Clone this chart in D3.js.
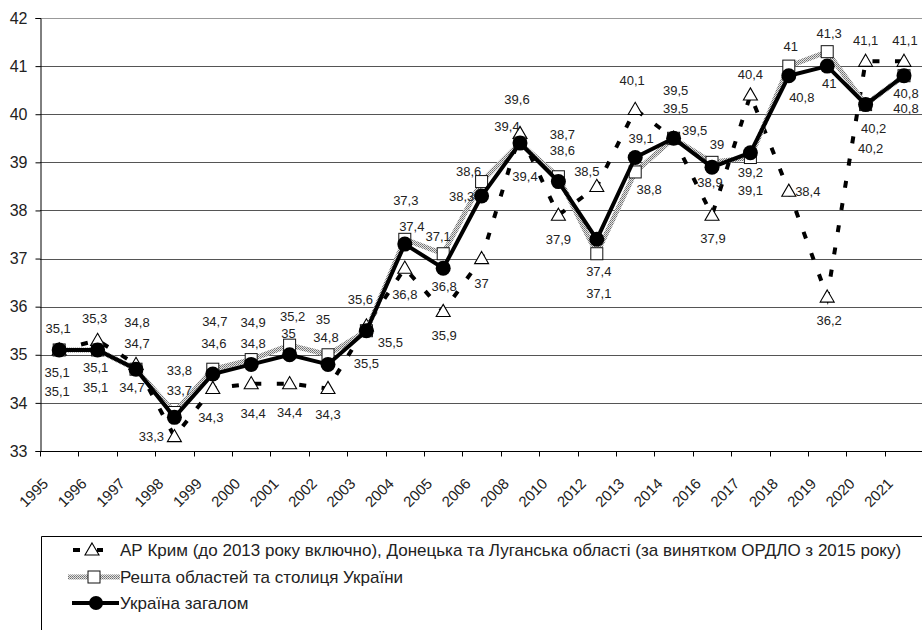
<!DOCTYPE html>
<html>
<head>
<meta charset="utf-8">
<script src="https://cdn.jsdelivr.net/npm/d3@7"></script>
<style>
  html, body { margin: 0; padding: 0; background: #fff; }
  svg { display: block; font-family: "Liberation Sans", Arial, sans-serif; }
</style>
</head>
<body>
<svg id="chart" width="922" height="630"></svg>
<script>
// ---------- DATA ----------
const years = ["1995","1996","1997","1998","1999","2000","2001","2002","2003","2004","2005","2006",
               "2008","2010","2012","2013","2014","2016","2017","2018","2019","2020","2021"];

const crimeaDonbas = [35.1,35.3,34.8,33.3,34.3,34.4,34.4,34.3,35.6,36.8,35.9,37.0,
                      39.6,37.9,38.5,40.1,39.5,37.9,40.4,38.4,36.2,41.1,41.1];
const restRegions  = [35.1,35.1,34.7,33.8,34.7,34.9,35.2,35.0,35.5,37.4,37.1,38.6,
                      39.4,38.7,37.1,38.8,39.5,39.0,39.1,41.0,41.3,40.2,40.8];
const ukraineTotal = [35.1,35.1,34.7,33.7,34.6,34.8,35.0,34.8,35.5,37.3,36.8,38.3,
                      39.4,38.6,37.4,39.1,39.5,38.9,39.2,40.8,41.0,40.2,40.8];

const yTicks = [33,34,35,36,37,38,39,40,41,42];

const legendLabels = [
  "АР Крим (до 2013 року включно), Донецька та Луганська області (за винятком ОРДЛО з 2015 року)",
  "Решта областей та столиця України",
  "Україна загалом"
];

// label placement (pixel offsets of label centre from its point)
const crimeaLabelOffsets = [[-1,-21],[-3,-22],[1,-42],[-23,0],[-2,29],[2,30],[0,29],[0,26],[-6,-26],[0,26],[1,24],[0,25],
                            [-3,-34],[0,24],[-10,-15],[-3,-29],[2,-48],[1,23],[0,-20],[19,0],[2,23],[0,-21],[1,-21]];
const restLabelOffsets   = [[-2,23],[-2,18],[1,-26],[5,-42],[2,-48],[2,-37],[3,-29],[-5,-35],[24,12],[7,-13],[-5,-17],[-13,-10],
                            [-13,-17],[4,-42],[2,40],[14,18],[2,-30],[5,-18],[0,33],[2,-20],[2,-18],[8,24],[2,18]];
const totalLabelOffsets  = [[-2,42],[-2,38],[-4,18],[5,-27],[1,-31],[2,-21],[-1,-21],[-2,-27],[0,33],[1,-44],[1,18],[-20,0],
                            [5,33],[4,-31],[2,32],[6,-19],[21,-8],[-2,15],[0,20],[13,22],[2,17],[5,44],[2,33]];

// ---------- LAYOUT ----------
const svg = d3.select("#chart");
const plot = {left: 40, top: 18, right: 923.2, bottom: 451};

const x = d3.scaleBand().domain(years).range([plot.left, plot.right]).padding(0);
const y = d3.scaleLinear().domain([33, 42]).range([plot.bottom, plot.top]);
const cx = d => x(d) + x.bandwidth() / 2;

const fmt = v => String(v).replace(".", ",");

// pattern for the grey textured line
const defs = svg.append("defs");
const pat = defs.append("pattern").attr("id", "tex").attr("patternUnits", "userSpaceOnUse")
  .attr("width", 2).attr("height", 2);
pat.append("rect").attr("width", 2).attr("height", 2).attr("fill", "#e4e4e4");
pat.append("rect").attr("width", 1).attr("height", 1).attr("fill", "#6e6e6e");
pat.append("rect").attr("x", 1).attr("y", 1).attr("width", 1).attr("height", 1).attr("fill", "#8a8a8a");

// gridlines
svg.append("g").selectAll("line").data(yTicks.filter(t => t > 33)).join("line")
  .attr("x1", plot.left).attr("x2", plot.right)
  .attr("y1", d => Math.round(y(d)) + 0.5).attr("y2", d => Math.round(y(d)) + 0.5)
  .attr("stroke", d => d === 42 ? "#999" : "#555").attr("stroke-width", 1);

// y axis
const yAxis = svg.append("g").attr("transform", `translate(${plot.left + 0.5},0)`)
  .call(d3.axisLeft(y).tickValues(yTicks).tickSize(5).tickPadding(8).tickFormat(d3.format("d")));
yAxis.select(".domain").attr("stroke", "#000");
yAxis.selectAll(".tick line").attr("stroke", "#000");
yAxis.selectAll("text").attr("font-size", 16).attr("fill", "#222")
  .attr("font-family", "'Liberation Sans', Arial, sans-serif");

// x axis with ticks at band boundaries
const xAxisG = svg.append("g").attr("transform", `translate(0,${Math.round(plot.bottom) + 0.5})`);
xAxisG.append("line").attr("x1", plot.left).attr("x2", plot.right).attr("stroke", "#000");
const bounds = years.map(d => x(d)).concat([plot.right]);
xAxisG.selectAll("line.tk").data(bounds).join("line").attr("class", "tk")
  .attr("x1", d => Math.round(d) + 0.5).attr("x2", d => Math.round(d) + 0.5)
  .attr("y1", 0).attr("y2", 5).attr("stroke", "#000");
xAxisG.selectAll("text").data(years).join("text")
  .attr("transform", d => `translate(${cx(d) - 10},${33}) rotate(-45)`)
  .attr("text-anchor", "end")
  .attr("font-size", 15).attr("fill", "#222")
  .text(d => d);

// ---------- SERIES ----------
const mk = vals => years.map((yr, i) => ({yr, v: vals[i]}));
const line = d3.line().x(d => cx(d.yr)).y(d => y(d.v));

// Crimea / Donbas : dashed black line, white triangles
const gC = svg.append("g");
gC.append("path").datum(mk(crimeaDonbas)).attr("d", line)
  .attr("fill", "none").attr("stroke", "#000").attr("stroke-width", 4)
  .attr("stroke-dasharray", "7,15.5");
const tri = d3.symbol().type(d3.symbolTriangle).size(85);
gC.selectAll("path.m").data(mk(crimeaDonbas)).join("path").attr("class", "m")
  .attr("d", tri)
  .attr("transform", d => `translate(${cx(d.yr)},${y(d.v) + 1})`)
  .attr("fill", "#fff").attr("stroke", "#000").attr("stroke-width", 1.1);

// Rest of regions : textured grey line, white squares
const gR = svg.append("g");
gR.append("path").datum(mk(restRegions)).attr("d", line)
  .attr("fill", "none").attr("stroke", "url(#tex)").attr("stroke-width", 5);
gR.selectAll("rect").data(mk(restRegions)).join("rect")
  .attr("x", d => cx(d.yr) - 6).attr("y", d => y(d.v) - 6)
  .attr("width", 12).attr("height", 12)
  .attr("fill", "#fff").attr("stroke", "#111").attr("stroke-width", 1);

// Ukraine total : solid black line, black circles
const gT = svg.append("g");
gT.append("path").datum(mk(ukraineTotal)).attr("d", line)
  .attr("fill", "none").attr("stroke", "#000").attr("stroke-width", 4);
gT.selectAll("circle").data(mk(ukraineTotal)).join("circle")
  .attr("cx", d => cx(d.yr)).attr("cy", d => y(d.v)).attr("r", 7.5)
  .attr("fill", "#000");

// ---------- DATA LABELS ----------
function labels(vals, offs) {
  svg.append("g").selectAll("text").data(mk(vals)).join("text")
    .attr("x", (d, i) => cx(d.yr) + offs[i][0])
    .attr("y", (d, i) => y(d.v) + offs[i][1])
    .attr("text-anchor", "middle").attr("dominant-baseline", "central")
    .attr("font-size", 13).attr("fill", "#222")
    .text(d => fmt(d.v));
}
labels(crimeaDonbas, crimeaLabelOffsets);
labels(restRegions, restLabelOffsets);
labels(ukraineTotal, totalLabelOffsets);

// ---------- LEGEND ----------
const lg = svg.append("g");
lg.append("path").attr("d", `M41.5,630 V536.5 H922`).attr("fill", "none").attr("stroke", "#000").attr("stroke-width", 1);
const rows = [550, 577, 603];
// row 1
lg.append("line").attr("x1", 73).attr("x2", 103).attr("y1", rows[0]).attr("y2", rows[0])
  .attr("stroke", "#000").attr("stroke-width", 4).attr("stroke-dasharray", "7,17,6");
lg.append("path").attr("d", tri).attr("transform", `translate(92,${rows[0] + 1})`)
  .attr("fill", "#fff").attr("stroke", "#000").attr("stroke-width", 1.1);
// row 2
lg.append("line").attr("x1", 68).attr("x2", 120).attr("y1", rows[1]).attr("y2", rows[1])
  .attr("stroke", "url(#tex)").attr("stroke-width", 5);
lg.append("rect").attr("x", 88).attr("y", rows[1] - 6).attr("width", 12).attr("height", 12)
  .attr("fill", "#fff").attr("stroke", "#111");
// row 3
lg.append("line").attr("x1", 72).attr("x2", 119).attr("y1", rows[2]).attr("y2", rows[2])
  .attr("stroke", "#000").attr("stroke-width", 4);
lg.append("circle").attr("cx", 96).attr("cy", rows[2]).attr("r", 7).attr("fill", "#000");

lg.selectAll("text").data(legendLabels).join("text")
  .attr("x", 120).attr("y", (d, i) => rows[i])
  .attr("dominant-baseline", "central")
  .attr("font-size", 17).attr("fill", "#222")
  .text(d => d);
</script>
</body>
</html>
